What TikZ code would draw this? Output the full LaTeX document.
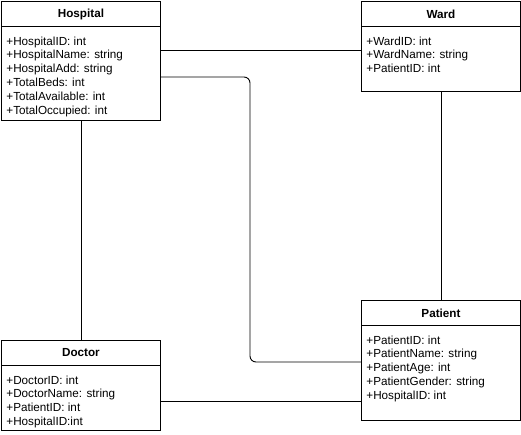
\documentclass[tikz,border=0pt]{standalone}
\usepackage{fontspec}
\setmainfont{Liberation Sans}
\usepackage{tikz}
\usetikzlibrary{calc,positioning}
\tikzstyle{uml}=[
  x=1pt,y=-1pt,line width=0.9pt,font=\fontsize{11.7}{13.8}\selectfont
]
\tikzstyle{classbox}=[
  draw,rectangle,inner sep=0pt,anchor=north west
]
\tikzstyle{classtitle}=[
  inner sep=0pt,font=\fontsize{11.7}{13.8}\selectfont\bfseries
]
\tikzstyle{attr}=[
  inner sep=0pt,anchor=base west
]
\tikzstyle{assoc}=[
  line width=0.9pt,rounded corners=6pt
]
% name, x, y, width, height, title, attributes
\newcommand{\umlclass}[7]{%
  \node[classbox,minimum width=#4,minimum height=#5] (#1) at (#2,#3) {};
  \draw ($(#1.north west)+(0,25)$) -- ($(#1.north east)+(0,25)$);
  \node[classtitle] (#1-title) at ($(#1.north)+(0,13)$) {#6};
  \foreach \a [count=\i] in {#7}
    \node[attr] (#1-\i) at ($(#1.north west)+(5,44+13.8*\i-13.8)$) {\a};
}

\begin{document}
\begin{tikzpicture}[uml]
  \useasboundingbox (0,0) rectangle (521,434);
  \umlclass{hosp}{1}{1}{159}{119}{Hospital}{+HospitalID: int,+HospitalName: string,+HospitalAdd: string,+TotalBeds: int,+TotalAvailable: int,+TotalOccupied: int}
  \umlclass{ward}{361}{1}{159}{90}{Ward}{+WardID: int,+WardName: string,+PatientID: int}
  \umlclass{doc}{1}{340}{159}{90}{Doctor}{+DoctorID: int,+DoctorName: string,+PatientID: int,+HospitalID:int}
  \umlclass{pat}{361}{300}{159}{120}{Patient}{+PatientID: int,+PatientName: string,+PatientAge: int,+PatientGender: string,+HospitalID: int}

  \coordinate (bend) at ($(pat.north west)+(-111,62)$);
  \draw[assoc] ($(hosp.north east)+(0,49)$) -- ($(ward.north west)+(0,49)$);
  \draw[assoc] ($(hosp.north east)+(0,76)$) -| (bend) -- ($(pat.north west)+(0,62)$);
  \draw[assoc] (hosp.south) -- (doc.north);
  \draw[assoc] (ward.south) -- (pat.north);
  \draw[assoc] ($(doc.north east)+(0,61)$) -- ($(pat.north west)+(0,101)$);
\end{tikzpicture}
\end{document}
